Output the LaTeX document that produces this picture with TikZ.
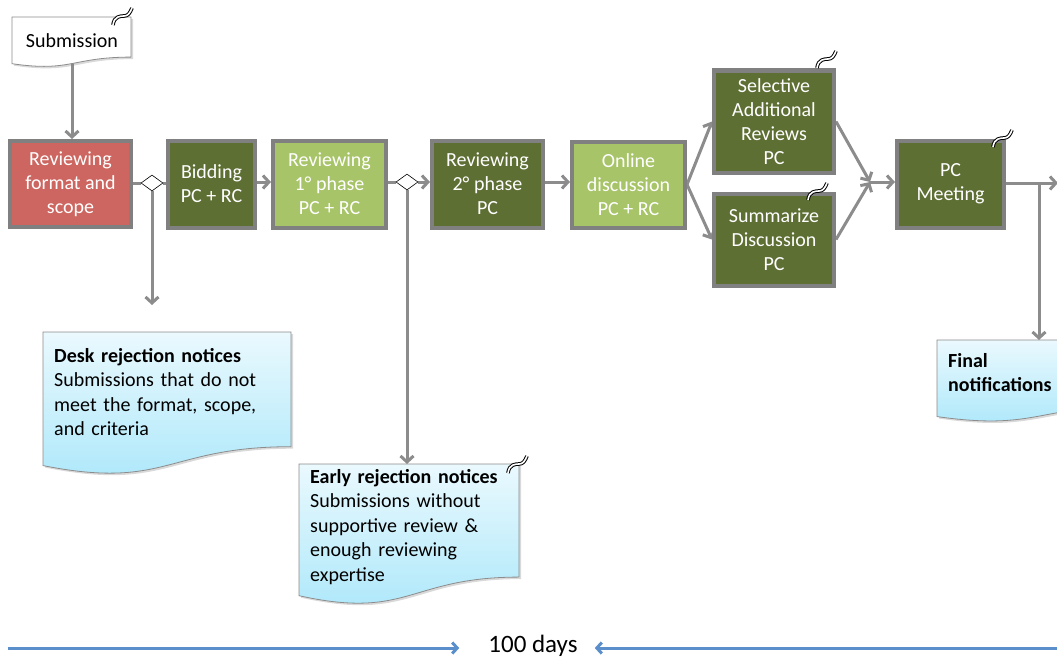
\documentclass[tikz,border=0pt]{standalone}
\usepackage{fontspec}
\setmainfont{Carlito}
\usetikzlibrary{arrows.meta,shadows,shapes.geometric}
\definecolor{redbox}{RGB}{205,102,96}
\definecolor{dkgreen}{RGB}{94,111,52}
\definecolor{ltgreen}{RGB}{167,196,104}
\definecolor{bordergray}{RGB}{128,128,128}
\definecolor{linegray}{RGB}{140,140,140}
\definecolor{docblueA}{RGB}{234,249,254}
\definecolor{docblueB}{RGB}{170,231,250}
\definecolor{timeblue}{RGB}{91,143,203}
\pgfdeclarelayer{background}
\pgfsetlayers{background,main}
\newcommand\docshape[5]{%
  \pgfmathsetmacro\docXa{#1+#3}%
  \pgfmathsetmacro\docYa{#2+0.802*#4}%
  \pgfmathsetmacro\docXm{#1+0.5*#3}%
  \pgfmathsetmacro\docYb{#2+1.107*#4}%
  \pgfmathsetmacro\docYc{#2+0.934*#4}%
  \path[#5] (#1,#2) -- (\docXa,#2) -- (\docXa,\docYa) .. controls (\docXm,\docYa) and (\docXm,\docYb) .. (#1,\docYc) -- cycle;}
\tikzset{
  box/.style={draw=bordergray, line width=4pt, text=white, align=center,
    font=\fontsize{20}{24}\selectfont, inner sep=0pt,
    drop shadow={opacity=0.25, shadow xshift=2pt, shadow yshift=-2pt}},
  dkbox/.style={box, fill=dkgreen},
  ltbox/.style={box, fill=ltgreen},
  gate/.style={diamond, draw=black, fill=white, line width=0.6pt, minimum width=22pt, minimum height=16pt, inner sep=0pt},
  conn/.style={draw=linegray, line width=3pt},
  arr/.style={conn, -{Straight Barb[length=6pt,width=13pt]}},
  tarr/.style={draw=timeblue, line width=3pt, -{Straight Barb[length=5pt,width=11pt]}},
  docfill/.style={draw=linegray, line width=0.8pt, top color=docblueA, bottom color=docblueB,
    drop shadow={opacity=0.3, shadow xshift=2pt, shadow yshift=-2pt}},
  docwhite/.style={draw=linegray, line width=0.8pt, fill=white,
    drop shadow={opacity=0.3, shadow xshift=2pt, shadow yshift=-2pt}},
  doctext/.style={anchor=north west, inner xsep=11pt, align=left, text=black,
    font=\fontsize{20}{24.5}\selectfont},
  squig/.pic={\draw[line width=1pt, draw=black, double=white, double distance=1.6pt]
    (0,0) .. controls (1,-9) and (8,-9) .. (11,-9) .. controls (15,-9) and (17,-12) .. (19,-17);}
}
\begin{document}
\begin{tikzpicture}[x=1pt,y=-1pt]
\useasboundingbox (0,0) rectangle (1057,661);
\clip (0,0) rectangle (1057,661);

% process boxes
\node[box, fill=redbox, minimum width=121pt, minimum height=86pt] (fmt) at (70.5,184) {Reviewing\\format and\\scope};
\node[dkbox, minimum width=87pt, minimum height=87pt] (bid) at (211.5,184) {Bidding\\PC + RC};
\node[ltbox, minimum width=113pt, minimum height=87pt] (rev1) at (329.5,184) {Reviewing\\1° phase\\PC + RC};
\node[dkbox, minimum width=111pt, minimum height=87pt] (rev2) at (487.5,184) {Reviewing\\2° phase\\PC};
\node[ltbox, minimum width=113pt, minimum height=86pt] (onl) at (628.5,184.5) {Online\\discussion\\PC + RC};
\node[dkbox, minimum width=120pt, minimum height=102pt] (sel) at (774,121.5) {Selective\\Additional\\Reviews\\PC};
\node[dkbox, minimum width=120pt, minimum height=92pt] (sum) at (774,239.5) {Summarize\\Discussion\\PC};
\node[dkbox, minimum width=107pt, minimum height=87pt] (pcm) at (950.5,184) {PC\\Meeting};

% decision gates
\node[gate] (d1) at (152,183) {};
\node[gate] (d2) at (407,182) {};

% documents
\docshape{12}{17}{119}{50}{docwhite}
\node[font=\fontsize{20}{24}\selectfont, inner sep=0pt] (sub) at (72,41) {Submission};

\docshape{43}{332}{248}{143}{docfill}
\node[doctext, inner ysep=16pt, text width=226pt] (desk) at (43,332)
  {\textbf{Desk rejection notices}\\Submissions that do not\\meet the format, scope,\\and criteria};

\docshape{299}{464}{220}{141}{docfill}
\node[doctext, inner ysep=5pt, text width=200pt] (early) at (299,464)
  {\textbf{Early rejection notices}\\Submissions without\\supportive review \&\\enough reviewing\\expertise};

\docshape{937}{340}{200}{82}{docfill}
\node[doctext, inner ysep=13pt, text width=180pt] (final) at (937,340)
  {\textbf{Final}\\\textbf{notifications}};

% squiggle marks
\pic at (113,25) {squig};
\pic at (817,68) {squig};
\pic at (808,200) {squig};
\pic at (993,147) {squig};
\pic at (508,473) {squig};

% helper coordinates
\coordinate (deskin) at (152,305);
\coordinate (mg) at (870,182);
\coordinate (br) at (1039,183);
\coordinate (outR) at (1058,183);

% connectors
\begin{pgfonlayer}{background}
\draw[arr] (sub) -- (sub |- fmt.north);
\draw[conn] (fmt.east |- d1) -- (d1.west);
\draw[conn] (d1.east) -- (d1.east -| bid.west);
\draw[arr] (d1.south) -- (deskin);
\draw[arr] (bid.east |- d2) -- (d2 -| rev1.west);
\draw[conn] (rev1.east |- d2) -- (d2.west);
\draw[arr] (d2.east) -- (d2.east -| rev2.west);
\draw[arr] (d2.south) -- (d2.south |- early.north);
\draw[arr] (rev2.east |- d2) -- (d2 -| onl.west);
\draw[arr] (onl.east) -- (sel.west);
\draw[arr] (onl.east) -- (sum.west);
\draw[arr] (sel.east) -- (mg);
\draw[arr] (sum.east) -- (mg);
\draw[arr] (mg) -- (mg -| pcm.west);
\draw[arr] (pcm.east |- br) -- (outR);
\draw[arr] (br) -- (br |- final.north);
\end{pgfonlayer}

% time line
\node[font=\fontsize{25}{30}\selectfont, inner sep=0pt] (days) at (533,646) {100 days};
\coordinate (tl) at (8,648);
\coordinate (tr) at (1058,648);
\draw[tarr] (tl) -- ([xshift=-29pt]days.west |- tl);
\draw[tarr] (tr) -- ([xshift=17pt]days.east |- tr);
\end{tikzpicture}
\end{document}
